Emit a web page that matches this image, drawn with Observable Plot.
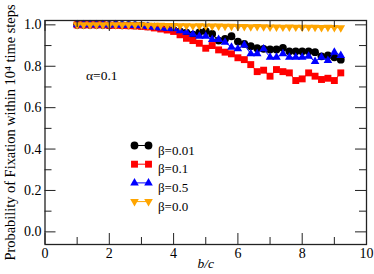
<!DOCTYPE html>
<html><head><meta charset="utf-8">
<script src="https://cdn.jsdelivr.net/npm/d3@7"></script>
<script src="https://cdn.jsdelivr.net/npm/@observablehq/plot@0.6"></script>
<style>body{margin:0;background:#fff}#chart{position:relative;width:374px;height:274px}
#chart svg, #chart svg text{font-family:"Liberation Serif","Times New Roman",serif !important}</style>
</head><body><div id="chart"></div>
<script>
const xs = [1.0,1.2,1.4,1.6,1.8,2.0,2.2,2.4,2.6,2.8,3.0,3.2,3.4,3.6,3.8,4.0,4.2,4.4,4.6,4.8,5.0,5.2,5.4,5.6,5.8,6.0,6.2,6.4,6.6,6.8,7.0,7.2,7.4,7.6,7.8,8.0,8.2,8.4,8.6,8.8,9.0,9.2];
const beta001 = [1.0,1.0,1.0,1.0,1.0,0.998,1.0,0.998,0.998,0.997,0.996,0.993,0.99,0.985,0.98,0.975,0.968,0.962,0.953,0.964,0.969,0.956,0.924,0.932,0.945,0.919,0.908,0.897,0.887,0.884,0.881,0.881,0.889,0.872,0.872,0.872,0.872,0.868,0.848,0.852,0.843,0.832];
const beta01 = [1.0,1.0,1.0,1.0,1.0,0.998,0.998,0.997,0.996,0.995,0.993,0.99,0.985,0.98,0.975,0.968,0.952,0.935,0.924,0.911,0.887,0.9,0.879,0.868,0.86,0.841,0.832,0.808,0.774,0.781,0.752,0.784,0.774,0.768,0.731,0.739,0.768,0.752,0.736,0.742,0.731,0.768];
const beta05 = [1.0,1.0,1.0,1.0,1.0,0.999,1.0,0.998,0.998,0.997,0.995,0.992,0.988,0.985,0.982,0.981,0.972,0.964,0.955,0.945,0.945,0.929,0.929,0.916,0.892,0.884,0.903,0.86,0.86,0.884,0.843,0.843,0.86,0.843,0.843,0.843,0.848,0.823,0.843,0.828,0.868,0.852];
const beta00 = [1.0,1.0,1.0,1.0,1.0,1.0,1.0,1.0,1.0,1.0,1.0,0.998,0.998,0.998,0.997,0.997,0.996,0.996,0.995,0.996,0.995,0.994,0.994,0.993,0.993,0.992,0.992,0.991,0.992,0.991,0.990,0.990,0.989,0.990,0.989,0.988,0.989,0.988,0.987,0.988,0.987,0.986];
const seriesNames = ["β=0.01","β=0.1","β=0.5","β=0.0"];
const seriesValues = [beta001, beta01, beta05, beta00];
const seriesColors = ["#000000","#ff0000","#0000ff","#ffa500"];
const seriesSymbols = ["circle","square","triangle","triangle"];
const seriesRotate = [0,0,0,180];
const seriesR = [3.9,3.9,3.2,3.2];
const xMajor = [0,2,4,6,8,10];
const xMinor = [1,3,5,7,9];
const yMajor = [0,0.2,0.4,0.6,0.8,1.0];
const yMinor = [0.1,0.3,0.5,0.7,0.9];

const FONT = "Liberation Serif";
const W = 374, H = 274, mL = 44.5, mR = 8, mT = 20, mB = 30;
const iW = W - mL - mR, iH = H - mT - mB;
const majorLen = 11, minorLen = 7;

const marks = [];
seriesValues.forEach((vals, s) => {
  const rows = xs.map((x, i) => ({x, y: vals[i]}));
  marks.push(Plot.line(rows, {x: "x", y: "y", stroke: seriesColors[s], strokeWidth: 1}));
  marks.push(Plot.dot(rows, {x: "x", y: "y", fill: seriesColors[s], stroke: "none", symbol: seriesSymbols[s], r: seriesR[s], rotate: seriesRotate[s]}));
});

// frame ticks (inward)
marks.push(Plot.tickX(xMajor, {x: d => d, insetTop: iH - majorLen, stroke: "#222"}));
marks.push(Plot.tickX(xMinor, {x: d => d, insetTop: iH - minorLen, stroke: "#222"}));
marks.push(Plot.tickX(xMajor, {x: d => d, insetBottom: iH - majorLen, stroke: "#222"}));
marks.push(Plot.tickX(xMinor, {x: d => d, insetBottom: iH - minorLen, stroke: "#222"}));
marks.push(Plot.tickY(yMajor, {y: d => d, insetRight: iW - majorLen, stroke: "#222"}));
marks.push(Plot.tickY(yMinor, {y: d => d, insetRight: iW - minorLen, stroke: "#222"}));
marks.push(Plot.tickY(yMajor, {y: d => d, insetLeft: iW - majorLen, stroke: "#222"}));
marks.push(Plot.tickY(yMinor, {y: d => d, insetLeft: iW - minorLen, stroke: "#222"}));
marks.push(Plot.frame({stroke: "#222", strokeWidth: 1.3}));

marks.push(Plot.axisX({ticks: xMajor, tickSize: 0, tickPadding: 3.5, tickFormat: d => String(d), label: null, fontSize: 14, fontFamily: FONT}));
marks.push(Plot.axisY({ticks: yMajor, tickSize: 0, tickPadding: 3.5, tickFormat: d3.format(".1f"), label: null, fontSize: 14, fontFamily: FONT}));

marks.push(Plot.text(["b/c"], {frameAnchor: "bottom", dy: 23, fontStyle: "italic", fontSize: 13.5, fontFamily: FONT}));
marks.push(Plot.text(["Probability of Fixation within 10⁴ time steps"], {frameAnchor: "left", dx: -34.5, rotate: -90, textAnchor: "middle", fontSize: 14.4, fontFamily: FONT}));
marks.push(Plot.text(["α=0.1"], {frameAnchor: "top-left", dx: 41, dy: 50, textAnchor: "start", fontSize: 13.5, fontFamily: FONT}));

// legend
const lineSym = {draw(ctx) { ctx.moveTo(-7, 0); ctx.lineTo(7, 0); }};
seriesNames.forEach((name, s) => {
  const dy = 125 + s * 18.7;
  marks.push(Plot.dot([name], {frameAnchor: "top-left", dx: 96.5, dy, symbol: lineSym, stroke: seriesColors[s], strokeWidth: 1, fill: "none"}));
  [89.5, 103.5].forEach(dx => marks.push(Plot.dot([name], {frameAnchor: "top-left", dx, dy, symbol: seriesSymbols[s], r: seriesR[s], rotate: seriesRotate[s], fill: seriesColors[s], stroke: "none"})));
  marks.push(Plot.text([name], {frameAnchor: "top-left", dx: 113, dy, textAnchor: "start", fontSize: 13, fontFamily: FONT}));
});

const chart = Plot.plot({
  width: W, height: H,
  marginLeft: mL, marginRight: mR, marginTop: mT, marginBottom: mB,
  style: {fontFamily: FONT, color: "#000", background: "#fff"},
  x: {domain: [0, 10]},
  y: {domain: [-0.061, 1.021]},
  marks
});
document.getElementById("chart").appendChild(chart);
</script></body></html>
